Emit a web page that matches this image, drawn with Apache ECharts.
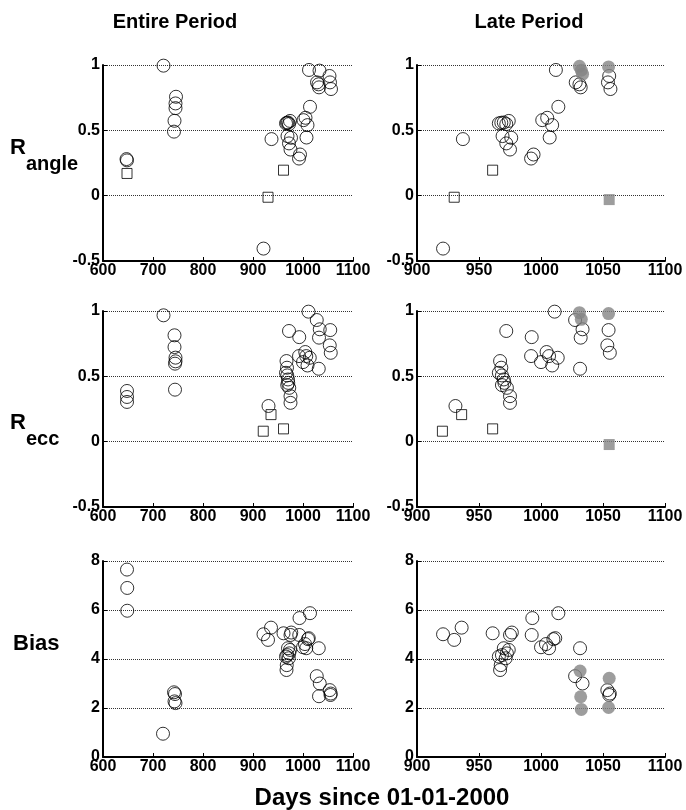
<!DOCTYPE html>
<html>
<head>
<meta charset="utf-8">
<script src="https://cdn.jsdelivr.net/npm/echarts@6/dist/echarts.min.js"></script>
<style>
  html, body { margin: 0; padding: 0; background: #fff; }
  #chart { width: 686px; height: 810px; }
</style>
</head>
<body>
<div id="chart"></div>
<script>
// [day, value] pairs

// R_angle, entire period
const angleEntireCircles = [
  [647, 0.28], [648, 0.27], [721, 0.995], [746, 0.757], [745, 0.706], [745, 0.67], [743, 0.573], [742, 0.49],
  [921, -0.405], [937, 0.433], [966, 0.553], [968, 0.558], [970, 0.56], [972, 0.548], [974, 0.572],
  [969, 0.456], [972, 0.40], [975, 0.353], [976, 0.443],
  [992, 0.284], [994, 0.315], [1001, 0.578], [1005, 0.596], [1009, 0.54], [1007, 0.445], [1012, 0.962], [1014, 0.68],
  [1028, 0.867], [1031, 0.852], [1032, 0.829], [1033, 0.957],
  [1053, 0.916], [1054, 0.867], [1056, 0.816]
];
const angleEntireSquares = [[648, 0.17], [930, -0.012], [961, 0.195]];

// R_angle, late period
const angleLateCircles = [
  [921, -0.405], [937, 0.433], [966, 0.553], [968, 0.558], [970, 0.56], [972, 0.548], [974, 0.572],
  [969, 0.456], [972, 0.40], [975, 0.353], [976, 0.443],
  [992, 0.284], [994, 0.315], [1001, 0.578], [1005, 0.596], [1009, 0.54], [1007, 0.445], [1012, 0.962], [1014, 0.68],
  [1028, 0.867], [1031, 0.852], [1032, 0.829],
  [1055, 0.916], [1054, 0.867], [1056, 0.816]
];
const angleLateSquares = [[930, -0.012], [961, 0.195]];
const angleLateGrey = [[1031, 0.99], [1032.5, 0.96], [1033.5, 0.93], [1054.5, 0.985]];
const angleLateGreySquares = [[1055, -0.03]];

// R_ecc, entire period
const eccEntireCircles = [
  [648, 0.388], [648, 0.342], [648, 0.304], [721, 0.967], [743, 0.814], [743, 0.724], [745, 0.643], [745, 0.615],
  [744, 0.597], [744, 0.398],
  [931, 0.273], [967, 0.617], [968, 0.566], [966, 0.527], [968.5, 0.507], [970, 0.476], [968.5, 0.433],
  [970.5, 0.45], [972.5, 0.412], [975, 0.348], [975, 0.297], [972, 0.847],
  [992.5, 0.80], [992, 0.655], [1000, 0.609], [1004.5, 0.686], [1006.5, 0.655], [1009, 0.583], [1013.5, 0.642], [1011, 0.995],
  [1027.5, 0.931], [1033.5, 0.86], [1032, 0.796], [1031.5, 0.558],
  [1054.5, 0.854], [1053.5, 0.737], [1055.5, 0.68]
];
const eccEntireSquares = [[920.5, 0.08], [936, 0.207], [961, 0.098]];

// R_ecc, late period
const eccLateCircles = [
  [931, 0.273], [967, 0.617], [968, 0.566], [966, 0.527], [968.5, 0.507], [970, 0.476], [968.5, 0.433],
  [970.5, 0.45], [972.5, 0.412], [975, 0.348], [975, 0.297], [972, 0.847],
  [992.5, 0.80], [992, 0.655], [1000, 0.609], [1004.5, 0.686], [1006.5, 0.655], [1009, 0.583], [1013.5, 0.642], [1011, 0.995],
  [1027.5, 0.931], [1033.5, 0.86], [1032, 0.796], [1031.5, 0.558],
  [1054.5, 0.854], [1053.5, 0.737], [1055.5, 0.68]
];
const eccLateSquares = [[920.5, 0.08], [936, 0.207], [961, 0.098]];
const eccLateGrey = [[1031, 0.987], [1032.5, 0.936], [1054.5, 0.98]];
const eccLateGreySquares = [[1055, -0.022]];

// Bias, entire period
const biasEntireCircles = [
  [648, 7.65], [648.5, 6.9], [648.5, 5.97], [720, 0.95], [742, 2.64], [744, 2.57], [745, 2.2], [743, 2.27],
  [921, 5.01], [930, 4.78], [936, 5.28], [961, 5.05], [967.5, 3.75], [967, 3.55], [966, 4.1], [970, 4.44],
  [968.5, 4.16], [971.5, 4.03], [972.5, 4.23], [974, 4.37], [975, 4.98], [976.5, 5.08],
  [992.5, 4.98], [993, 5.67], [1000, 4.48], [1004, 4.61], [1006.5, 4.44], [1010, 4.81], [1011.5, 4.85], [1014, 5.87],
  [1027.5, 3.30], [1031.5, 4.44], [1033.5, 3.0], [1032, 2.48],
  [1053.5, 2.73], [1055, 2.53], [1055.5, 2.59]
];

// Bias, late period
const biasLateCircles = [
  [921, 5.01], [930, 4.78], [936, 5.28], [961, 5.05], [967.5, 3.75], [967, 3.55], [966, 4.1], [970, 4.44],
  [968.5, 4.16], [971.5, 4.03], [972.5, 4.23], [974, 4.37], [975, 4.98], [976.5, 5.08],
  [992.5, 4.98], [993, 5.67], [1000, 4.48], [1004, 4.61], [1006.5, 4.44], [1010, 4.81], [1011.5, 4.85], [1014, 5.87],
  [1027.5, 3.30], [1031.5, 4.44], [1033.5, 3.0],
  [1053.5, 2.73], [1055, 2.53], [1055.5, 2.59]
];
const biasLateGrey = [[1031.5, 3.51], [1032, 2.46], [1032.5, 1.94], [1055, 3.21], [1054.5, 2.02]];

// axis ranges
const xEntire = { min: 600, max: 1100, interval: 100 };
const xLate = { min: 900, max: 1100, interval: 50 };
const yR = { min: -0.5, max: 1, interval: 0.5 };
const yBias = { min: 0, max: 8, interval: 2 };

const FONT = '"Liberation Sans", Arial, Helvetica, sans-serif';
const GREY = '#858585';

const chart = echarts.init(document.getElementById('chart'));

// panel layout
const rowsTop = [65, 311, 561];
const cols = [[103, 250], [417, 248]];
const panels = [
  { row: 0, col: 0, x: xEntire, y: yR, circ: angleEntireCircles, sq: angleEntireSquares },
  { row: 0, col: 1, x: xLate, y: yR, circ: angleLateCircles, sq: angleLateSquares, grey: angleLateGrey, greySq: angleLateGreySquares },
  { row: 1, col: 0, x: xEntire, y: yR, circ: eccEntireCircles, sq: eccEntireSquares },
  { row: 1, col: 1, x: xLate, y: yR, circ: eccLateCircles, sq: eccLateSquares, grey: eccLateGrey, greySq: eccLateGreySquares },
  { row: 2, col: 0, x: xEntire, y: yBias, circ: biasEntireCircles },
  { row: 2, col: 1, x: xLate, y: yBias, circ: biasLateCircles, grey: biasLateGrey }
];

const axisCommon = {
  axisLine: { show: true, onZero: false, lineStyle: { color: '#000', width: 2 } },
  axisTick: { show: true, inside: true, length: 4, lineStyle: { color: '#000', width: 1 } },
  axisLabel: { color: '#000', fontSize: 16, fontWeight: 'bold', fontFamily: FONT,
    showMinLabel: true, showMaxLabel: true, formatter: v => String(v) }
};

const grid = [], xAxis = [], yAxis = [], series = [];
panels.forEach((p, i) => {
  grid.push({ left: cols[p.col][0], top: rowsTop[p.row], width: cols[p.col][1], height: 196 });
  xAxis.push({
    type: 'value', gridIndex: i, ...p.x,
    ...axisCommon,
    axisLabel: { ...axisCommon.axisLabel, margin: 2 },
    splitLine: { show: false }
  });
  yAxis.push({
    type: 'value', gridIndex: i, ...p.y,
    ...axisCommon,
    axisLabel: { ...axisCommon.axisLabel, margin: 3 },
    splitLine: { show: true, lineStyle: { type: 'dotted', color: '#333', width: 1 } }
  });
  const base = { type: 'scatter', xAxisIndex: i, yAxisIndex: i, silent: true };
  series.push({ ...base, data: p.circ, symbol: 'circle', symbolSize: 13,
    itemStyle: { color: 'rgba(0,0,0,0)', borderColor: '#000', borderWidth: 1 } });
  if (p.sq) series.push({ ...base, data: p.sq, symbol: 'rect', symbolSize: 10,
    itemStyle: { color: 'rgba(0,0,0,0)', borderColor: '#000', borderWidth: 1 } });
  if (p.grey) series.push({ ...base, data: p.grey, symbol: 'circle', symbolSize: 13,
    itemStyle: { color: GREY, borderWidth: 0 } });
  if (p.greySq) series.push({ ...base, data: p.greySq, symbol: 'rect', symbolSize: 11,
    itemStyle: { color: GREY, borderWidth: 0 } });
});

function label(text, x, y, size, align) {
  return {
    type: 'text', x: x, y: y, silent: true,
    style: { text: text, fill: '#000', font: 'bold ' + size + 'px ' + FONT,
      align: align || 'left', verticalAlign: 'middle',
      textAlign: align || 'left', textVerticalAlign: 'middle' }
  };
}

chart.setOption({
  animation: false,
  backgroundColor: '#fff',
  grid, xAxis, yAxis, series,
  graphic: [
    label('Entire Period', 175, 22, 20, 'center'),
    label('Late Period', 529, 22, 20, 'center'),
    label('R', 10, 148, 22),
    label('angle', 26, 164, 20),
    label('R', 10, 423, 22),
    label('ecc', 26, 439, 20),
    label('Bias', 13, 644, 22),
    label('Days since 01-01-2000', 382, 798, 24, 'center')
  ]
});
</script>
</body>
</html>
